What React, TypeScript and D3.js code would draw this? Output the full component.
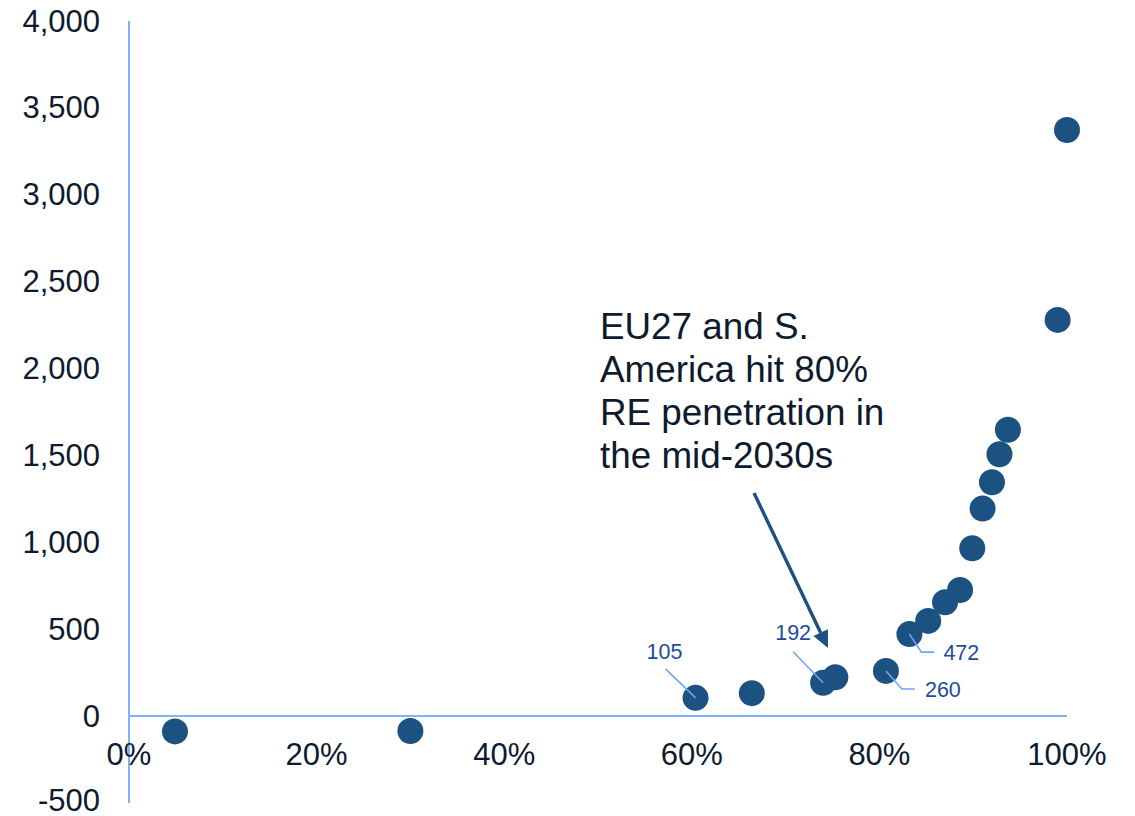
import React from "react";
import * as d3 from "d3";

// RE penetration share (%) for each market/year point
const penetration: number[] = [4.9, 30.0, 60.4, 66.4, 74.0, 75.3, 80.7, 83.2, 85.2, 87.0, 88.6, 89.9, 91.0, 92.0, 92.8, 93.7, 99.0, 100.0];
// Corresponding value on the vertical axis
const values: number[] = [-88, -86, 105, 132, 192, 224, 260, 472, 548, 655, 726, 966, 1194, 1346, 1507, 1648, 2280, 3373];

const yTicks: number[] = [-500, 0, 500, 1000, 1500, 2000, 2500, 3000, 3500, 4000];
const xTicks: number[] = [0, 20, 40, 60, 80, 100];

// Points that carry a value label (index into the series)
const labelled: number[] = [2, 4, 6, 7];

const annotationLines: string[] = ["EU27 and S.", "America hit 80%", "RE penetration in", "the mid-2030s"];

const W = 1135;
const H = 816;
const FONT = "'Liberation Sans', Arial, Helvetica, sans-serif";
const DOT = "#1b5281";
const AXIS = "#80b2f7";
const TEXT = "#0e1a2d";
const LABEL = "#1c4c9c";
const LEADER = "#6ea6f5";

type LabelStyle = { pts: [number, number][]; tx: number; ty: number; anchor: "start" | "middle" };
// Leader geometry relative to the point centre
const labelStyles: Record<number, LabelStyle> = {
  2: { pts: [[0, 0], [-30, -29]], tx: -31, ty: -46, anchor: "middle" },
  4: { pts: [[0, 0], [-30, -31]], tx: -30, ty: -50, anchor: "middle" },
  6: { pts: [[0, 0], [16, 18], [29, 18]], tx: 39, ty: 19, anchor: "start" },
  7: { pts: [[0, 0], [12, 18], [25, 18]], tx: 34, ty: 19, anchor: "start" },
};

// Thousands separator with a plain hyphen for negatives
const base = d3.format(",");
const fmt = (v: number) => base(v).replace("\u2212", "-");

export default function App() {
  const x = d3.scaleLinear().domain([0, 100]).range([129, 1067]);
  const y = d3.scaleLinear().domain([-500, 4000]).range([803, 21]);
  const line = d3.line();

  // Annotation arrow
  const ax1 = 754, ay1 = 493, ax2 = 828, ay2 = 648;
  const ang = Math.atan2(ay2 - ay1, ax2 - ax1);
  const headLen = 17, headW = 8;
  const bx = ax2 - headLen * Math.cos(ang);
  const by = ay2 - headLen * Math.sin(ang);
  const px = -Math.sin(ang), py = Math.cos(ang);
  const head = `M${ax2},${ay2}L${bx + px * headW},${by + py * headW}L${bx - px * headW},${by - py * headW}Z`;

  return (
    <svg width={W} height={H} style={{ position: "absolute", left: 0, top: 0, background: "#fff" }} fontFamily={FONT}>
      {/* axes */}
      <line x1={x(0)} x2={x(0)} y1={y(4000)} y2={y(-500)} stroke={AXIS} strokeWidth={2} />
      <line x1={x(0)} x2={x(100)} y1={y(0)} y2={y(0)} stroke={AXIS} strokeWidth={2} />

      {yTicks.map((t) => (
        <text key={"y" + t} x={100} y={y(t) - (t === -500 ? 3 : 0)} textAnchor="end" dominantBaseline="central" fontSize={31} fill={TEXT}>
          {fmt(t)}
        </text>
      ))}
      {xTicks.map((t) => (
        <text key={"x" + t} x={x(t)} y={y(0) + 38} textAnchor="middle" dominantBaseline="central" fontSize={31} fill={TEXT}>
          {t + "%"}
        </text>
      ))}

      {/* points */}
      {penetration.map((p, i) => (
        <circle key={"c" + i} cx={x(p)} cy={y(values[i])} r={13} fill={DOT} />
      ))}

      {/* value labels with leaders */}
      {labelled.map((i) => {
        const s = labelStyles[i];
        const cx = x(penetration[i]);
        const cy = y(values[i]);
        const d = line(s.pts.map(([dx, dy]) => [cx + dx, cy + dy] as [number, number])) || "";
        return (
          <g key={"l" + i}>
            <path d={d} fill="none" stroke={LEADER} strokeWidth={1.6} />
            <text x={cx + s.tx} y={cy + s.ty} textAnchor={s.anchor} dominantBaseline="central" fontSize={21.5} fill={LABEL}>
              {fmt(values[i])}
            </text>
          </g>
        );
      })}

      {/* annotation */}
      {annotationLines.map((t, i) => (
        <text key={"a" + i} x={600} y={339 + i * 43} fontSize={36.8} fill={TEXT}>
          {t}
        </text>
      ))}
      <line x1={ax1} y1={ay1} x2={bx} y2={by} stroke={DOT} strokeWidth={3.4} />
      <path d={head} fill={DOT} />
    </svg>
  );
}
